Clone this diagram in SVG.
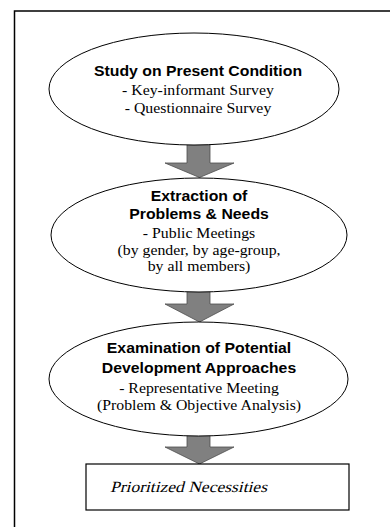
<svg xmlns="http://www.w3.org/2000/svg" width="390" height="527" viewBox="0 0 390 527">
  <style>
    .frame { fill: none; stroke: #000; stroke-width: 1.5; }
    .oval { fill: #fff; stroke: #000; stroke-width: 1; }
    .box { fill: #fff; stroke: #000; stroke-width: 1.2; }
    .arrow { fill: #808080; stroke: #4d4d4d; stroke-width: 0.8; stroke-linejoin: miter; }
    .title { font-family: "Liberation Sans", Arial, sans-serif; font-weight: bold; font-size: 14px; text-anchor: middle; fill: #000; }
    .body { font-family: "Liberation Serif", "Times New Roman", serif; font-size: 14px; text-anchor: middle; fill: #000; }
    .result { font-family: "Liberation Serif", "Times New Roman", serif; font-size: 15.5px; fill: #000; }
  </style>

  <!-- outer frame (top and left edges) -->
  <path class="frame" d="M14.5,527 V11 H390"/>

  <!-- block arrows between the stages -->
  <g id="connectors">
    <path class="arrow" d="M187,138 H210 V163 H234 L199.5,177.5 L165,163 H187 Z"/>
    <path class="arrow" d="M187,284 H210 V304 H234 L199.5,322 L165,304 H187 Z"/>
    <path class="arrow" d="M187,430 H210 V447 H234 L199.5,464 L165,447 H187 Z"/>
  </g>

  <g id="study">
    <ellipse class="oval" cx="194" cy="89" rx="145" ry="56"/>
    <g transform="translate(198 0) scale(1.13 1)">
      <text class="title" x="0" y="76">Study on Present Condition</text>
      <text class="body" x="0" y="95">- Key-informant Survey</text>
      <text class="body" x="0" y="113">- Questionnaire Survey</text>
    </g>
  </g>

  <g id="extraction">
    <ellipse class="oval" cx="199" cy="235" rx="148" ry="57"/>
    <g transform="translate(199 0) scale(1.13 1)">
      <text class="title" x="0" y="201">Extraction of</text>
      <text class="title" x="0" y="219">Problems &amp; Needs</text>
      <text class="body" x="0" y="238">- Public Meetings</text>
      <text class="body" x="0" y="255">(by gender, by age-group,</text>
      <text class="body" x="0" y="271">by all members)</text>
    </g>
  </g>

  <g id="examination">
    <ellipse class="oval" cx="198.5" cy="379" rx="149.5" ry="57"/>
    <g transform="translate(199 0) scale(1.13 1)">
      <text class="title" x="0" y="353">Examination of Potential</text>
      <text class="title" x="0" y="373">Development Approaches</text>
      <text class="body" x="0" y="393">- Representative Meeting</text>
      <text class="body" x="0" y="410">(Problem &amp; Objective Analysis)</text>
    </g>
  </g>

  <g id="necessities">
    <rect class="box" x="86" y="464" width="263" height="46"/>
    <!-- slanted serif label -->
    <g transform="translate(110 492) scale(1.13 1) skewX(-13)">
      <text class="result" x="0" y="0">Prioritized Necessities</text>
    </g>
  </g>
</svg>
